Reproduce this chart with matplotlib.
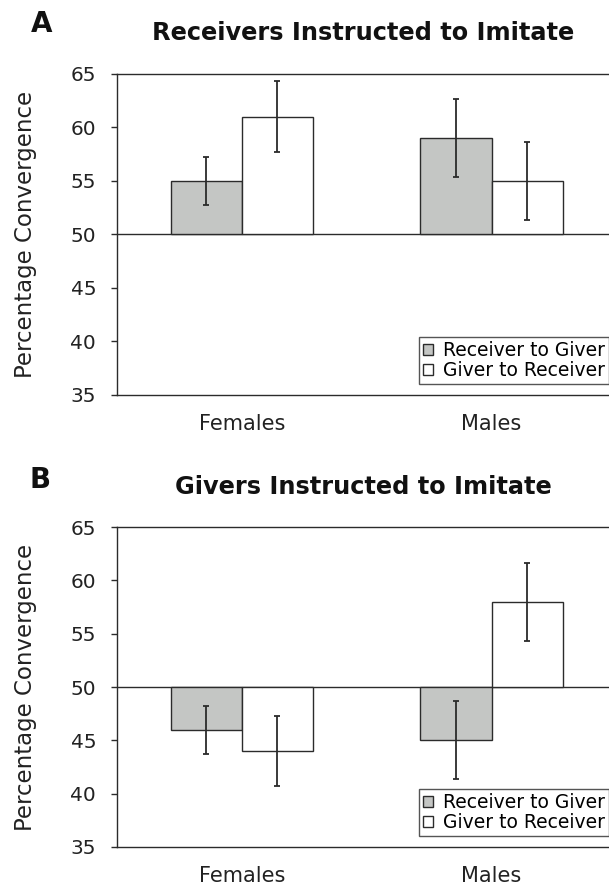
import matplotlib.pyplot as plt
import numpy as np

# data (bars start at 50 %)
groups = ['Females', 'Males']
legend_labels = ['Receiver to Giver', 'Giver to Receiver']

a_recv_to_giver = [55, 59]
a_recv_to_giver_err = [2.25, 3.65]
a_giver_to_recv = [61, 55]
a_giver_to_recv_err = [3.3, 3.65]

b_recv_to_giver = [46, 45]
b_recv_to_giver_err = [2.25, 3.65]
b_giver_to_recv = [44, 58]
b_giver_to_recv_err = [3.28, 3.65]

titles = ['Receivers Instructed to Imitate', 'Givers Instructed to Imitate']
letters = ['A', 'B']

grey = '#c4c6c4'
dark = '#2b2b2b'

fig = plt.figure(figsize=(6.09, 8.88), dpi=100)
axA = fig.add_axes([0.1921, 0.5552, 0.8079, 0.3615])
axB = fig.add_axes([0.1921, 0.0462, 0.8079, 0.3603])

panels = [
    (axA, a_recv_to_giver, a_recv_to_giver_err, a_giver_to_recv, a_giver_to_recv_err),
    (axB, b_recv_to_giver, b_recv_to_giver_err, b_giver_to_recv, b_giver_to_recv_err),
]

x = np.arange(len(groups))
w = 0.285

for ax, rg, rg_err, gr, gr_err in panels:
    rg_h = np.array(rg) - 50
    gr_h = np.array(gr) - 50
    ax.bar(x - w / 2, rg_h, w, bottom=50, color=grey, edgecolor=dark, linewidth=1.0,
           label=legend_labels[0], zorder=2)
    ax.bar(x + w / 2, gr_h, w, bottom=50, color='white', edgecolor=dark, linewidth=1.0,
           label=legend_labels[1], zorder=2)
    ax.errorbar(x - w / 2, rg, yerr=rg_err, fmt='none', ecolor=dark, elinewidth=1.3,
                capsize=2.2, capthick=1.3, zorder=3)
    ax.errorbar(x + w / 2, gr, yerr=gr_err, fmt='none', ecolor=dark, elinewidth=1.3,
                capsize=2.2, capthick=1.3, zorder=3)
    ax.axhline(50, color=dark, linewidth=1.0, zorder=1)

    ax.set_ylim(35, 65)
    ax.set_yticks([35, 40, 45, 50, 55, 60, 65])
    ax.set_xlim(-0.5, 1.47)
    ax.set_xticks(x)
    ax.set_xticklabels(groups, fontsize=15, color='#222222')
    ax.tick_params(axis='x', length=0, pad=14)
    ax.tick_params(axis='y', length=4, width=1, color=dark, labelsize=14.5,
                   labelcolor='#222222', pad=11)
    ax.set_ylabel('Percentage Convergence', fontsize=16.5, color='#222222', labelpad=24)

    ax.spines['right'].set_visible(False)
    for s in ['left', 'top', 'bottom']:
        ax.spines[s].set_color(dark)
        ax.spines[s].set_linewidth(1.0)

    leg = ax.legend(loc='lower right', bbox_to_anchor=(1.0, 0.034), fontsize=13.5,
                    frameon=True, fancybox=False, handlelength=0.55, handleheight=0.55,
                    handletextpad=0.55, borderpad=0.2, labelspacing=0.08,
                    borderaxespad=0.0)
    leg.get_frame().set_edgecolor(dark)
    leg.get_frame().set_linewidth(1.0)

fig.text(0.596, 0.9623, titles[0], ha='center', va='center', fontsize=17.3,
         fontweight='bold', color='#111111')
fig.text(0.596, 0.4516, titles[1], ha='center', va='center', fontsize=17.3,
         fontweight='bold', color='#111111')
fig.text(0.069, 0.9735, letters[0], ha='center', va='center', fontsize=20,
         fontweight='bold', color='#111111')
fig.text(0.0665, 0.46, letters[1], ha='center', va='center', fontsize=20,
         fontweight='bold', color='#111111')

fig.savefig('out.png', dpi=100)
